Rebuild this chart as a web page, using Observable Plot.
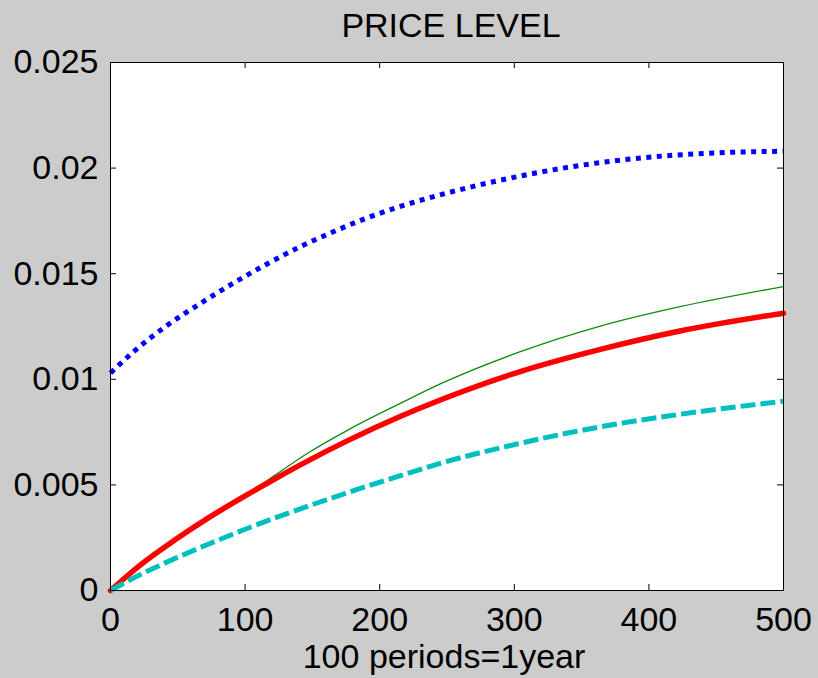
<!DOCTYPE html>
<html>
<head>
<meta charset="utf-8">
<script src="https://cdn.jsdelivr.net/npm/d3@7"></script>
<script src="https://cdn.jsdelivr.net/npm/@observablehq/plot@0.6"></script>
<style>
  html, body { margin: 0; padding: 0; background: #cccccc; }
  #chart svg { display: block; }
</style>
</head>
<body>
<div id="chart"></div>
<script>
const titleText = "PRICE LEVEL";
const xLabelText = "100 periods=1year";

const periodsBlue = [0, 17, 42, 67, 92, 116, 141, 166, 191, 216, 250, 295, 344, 394, 443, 500];
const blueSeries  = [0.0103, 0.0113, 0.01255, 0.0136, 0.01458, 0.01545, 0.01628, 0.017, 0.01765, 0.0182, 0.01882, 0.0195, 0.02008, 0.02048, 0.0207, 0.0208];

const periods     = [0, 23, 48, 73, 100, 122, 147, 177, 216, 245, 305, 364, 424, 500];
const greenSeries = [0, 0.00125, 0.0024, 0.00345, 0.00448, 0.00545, 0.00652, 0.00762, 0.00888, 0.00978, 0.01132, 0.01252, 0.01345, 0.01439];
const redSeries   = [0, 0.00125, 0.0024, 0.00345, 0.00448, 0.00528, 0.00615, 0.00712, 0.00826, 0.00902, 0.01038, 0.01142, 0.0123, 0.01313];
const cyanSeries  = [0, 0.00078, 0.00152, 0.0022, 0.0029, 0.00343, 0.004, 0.00465, 0.00545, 0.00602, 0.00698, 0.00775, 0.00835, 0.00896];

const xTicks = [0, 100, 200, 300, 400, 500];
const xTickLabels = ["0", "100", "200", "300", "400", "500"];
const yTicks = [0, 0.005, 0.01, 0.015, 0.02, 0.025];
const yTickLabels = ["0", "0.005", "0.01", "0.015", "0.02", "0.025"];

const toRows = (xs, vals) => xs.map((p, i) => ({x: p, y: vals[i]}));
const blue = toRows(periodsBlue, blueSeries);
const green = toRows(periods, greenSeries);
const red = toRows(periods, redSeries);
const cyan = toRows(periods, cyanSeries);

const W = 818, H = 678;
const mL = 110, mR = 35, mT = 62, mB = 88;
const innerW = W - mL - mR, innerH = H - mT - mB;
const tickLen = 6;
const fs = 34;

const chart = Plot.plot({
  width: W,
  height: H,
  marginLeft: mL, marginRight: mR, marginTop: mT, marginBottom: mB,
  style: {background: "#cccccc", fontFamily: "'Liberation Sans', Arial, Helvetica, sans-serif", color: "black"},
  x: {domain: [0, 500]},
  y: {domain: [0, 0.025]},
  marks: [
    Plot.frame({fill: "white", stroke: null}),
    Plot.line(blue,  {x: "x", y: "y", stroke: "#0000ff", strokeWidth: 5, strokeDasharray: "5 5.5", strokeLinecap: "butt", curve: "monotone-x"}),
    Plot.line(green, {x: "x", y: "y", stroke: "#108a10", strokeWidth: 1.3, curve: "monotone-x"}),
    Plot.line(red,   {x: "x", y: "y", stroke: "#ff0000", strokeWidth: 5.5, curve: "monotone-x"}),
    Plot.line(cyan,  {x: "x", y: "y", stroke: "#00bfbf", strokeWidth: 5, strokeDasharray: "15 5", strokeLinecap: "butt", curve: "monotone-x"}),
    // inward ticks on all four sides
    Plot.tickX(xTicks, {x: d => d, stroke: "black", insetTop: innerH - tickLen}),
    Plot.tickX(xTicks, {x: d => d, stroke: "black", insetBottom: innerH - tickLen}),
    Plot.tickY(yTicks, {y: d => d, stroke: "black", insetLeft: innerW - tickLen}),
    Plot.tickY(yTicks, {y: d => d, stroke: "black", insetRight: innerW - tickLen}),
    Plot.frame({stroke: "black", strokeWidth: 1}),
    Plot.axisX({ticks: xTicks, tickSize: 0, tickPadding: 16, fontSize: fs, label: null,
      tickFormat: (d) => xTickLabels[xTicks.indexOf(d)]}),
    Plot.axisY({ticks: yTicks, tickSize: 0, tickPadding: 12, fontSize: fs, label: null,
      tickFormat: (d) => yTickLabels[yTicks.indexOf(d)]}),
    Plot.text([titleText], {frameAnchor: "top", text: d => d, dy: -26, dx: 4, lineAnchor: "bottom", fontSize: fs, fill: "black"}),
    Plot.text([xLabelText], {frameAnchor: "bottom", text: d => d, dy: 77, dx: -3, lineAnchor: "bottom", fontSize: fs, fill: "black"})
  ]
});
document.getElementById("chart").appendChild(chart);
</script>
</body>
</html>
